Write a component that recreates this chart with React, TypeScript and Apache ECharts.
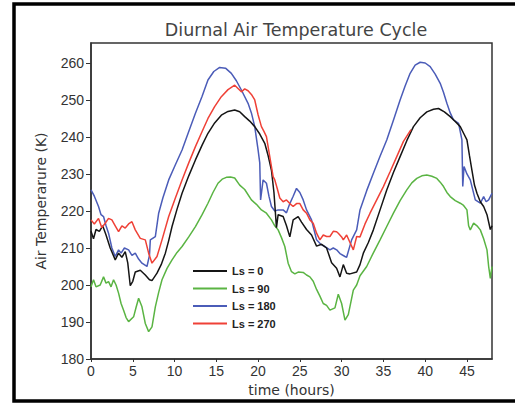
import React, { useEffect, useRef } from "react";
import * as echarts from "echarts";

const seriesNames = ["Ls = 0", "Ls = 90", "Ls = 180", "Ls = 270"];
const xTickValues = [0, 5, 10, 15, 20, 25, 30, 35, 40, 45];
const yTickValues = [180, 190, 200, 210, 220, 230, 240, 250, 260];

const ls0Hours = [0, 0.3, 0.6, 1.0, 1.4, 1.8, 2.3, 2.9, 3.3, 3.7, 4.1, 4.4, 4.7, 5.0, 5.3, 5.9, 6.5, 7.0, 7.3, 7.9, 8.4, 8.9, 9.3, 9.7, 10.3, 10.9, 11.7, 12.5, 13.3, 14.0, 14.8, 15.6, 16.4, 17.2, 17.8, 18.4, 19.0, 19.6, 20.2, 20.8, 21.2, 21.6, 21.9, 22.2, 22.4, 23.0, 23.4, 23.8, 24.2, 24.8, 25.2, 25.8, 26.4, 27.0, 27.6, 28.2, 28.8, 29.4, 29.8, 30.2, 30.6, 31.0, 31.8, 32.2, 32.6, 33.2, 33.8, 34.6, 35.4, 36.2, 37.0, 37.8, 38.6, 39.4, 40.2, 41.0, 41.6, 42.3, 43.0, 43.6, 44.2, 44.6, 45.0, 45.3, 45.6, 45.9, 46.2, 46.6, 47.0, 47.4, 47.8, 48.0];
const ls0Temps = [214.5, 212.5, 215, 214.5, 216, 213.5, 210, 206.8, 208.6, 207.5, 209, 206, 199.8, 201, 203.5, 204, 202.7, 201.4, 201.2, 203.2, 205.5, 208.6, 212, 215.8, 220.5, 224.8, 229.5, 233.8, 237.8, 241, 243.8, 245.9, 246.9, 247.3, 246.8, 245.5, 244.3, 242.8, 240.8, 238.3, 235, 231, 225, 215.5, 219, 218.5, 216, 213, 217.6, 218.5, 217, 215, 213.5, 210.5, 211, 210, 206, 204.5, 202.2, 205.5, 203.2, 203, 203.5, 205.5, 208.6, 211.5, 214.9, 220.3, 225.7, 230.4, 234.7, 239, 242.8, 245.2, 246.8, 247.5, 247.7, 246.8, 245.5, 244.2, 242.8, 241, 239.2, 235, 231, 227, 224.8, 222.5, 221.2, 219, 215, 216];

const ls90Hours = [0, 0.3, 0.6, 1.1, 1.5, 1.8, 2.1, 2.4, 2.7, 3.0, 3.3, 3.6, 3.9, 4.2, 4.5, 5.1, 5.4, 5.7, 6.1, 6.5, 6.9, 7.3, 7.7, 8.1, 8.5, 9.1, 9.7, 10.3, 10.9, 11.7, 12.5, 13.3, 14.0, 14.6, 15.2, 15.7, 16.2, 16.7, 17.2, 17.8, 18.4, 19.2, 19.8, 20.4, 21.0, 21.6, 22.0, 22.4, 22.8, 23.2, 23.6, 24.0, 24.4, 24.8, 25.4, 25.8, 26.2, 26.6, 27.0, 27.4, 27.8, 28.2, 28.6, 29.2, 29.6, 30.0, 30.4, 30.8, 31.4, 31.8, 32.2, 33.0, 33.8, 34.6, 35.4, 36.2, 37.0, 37.8, 38.4, 39.0, 39.6, 40.2, 40.8, 41.4, 41.8, 42.2, 42.6, 43.0, 43.6, 44.2, 44.6, 45.0, 45.2, 45.4, 45.8, 46.2, 46.6, 47.0, 47.4, 47.6, 47.8, 48.0];
const ls90Temps = [199.5, 201.4, 199.5, 200, 202.2, 200.5, 200.9, 199.5, 201.4, 200, 197.8, 195, 193.2, 191.2, 190.1, 191.4, 194, 196.4, 194.1, 189.6, 187.4, 188.7, 194.1, 198, 201.4, 204.5, 206.8, 208.8, 210.4, 213, 215.8, 219, 222.1, 225, 227.5, 228.6, 229.1, 229.2, 228.9, 227, 225.8, 223, 221.8, 220.3, 219.4, 217.6, 216, 214.9, 212.8, 210.4, 205.9, 203.6, 203, 203.5, 203.4, 202.7, 202.2, 201, 198.8, 197, 195, 194.5, 193.2, 193.8, 197.5, 195, 190.5, 192, 198.6, 200, 202.5, 205, 208.7, 212.2, 215.8, 219.4, 222.8, 225.7, 227.6, 228.8, 229.5, 229.7, 229.4, 228.8, 227.8, 226.6, 225, 223.9, 222.8, 222.1, 221.5, 220.3, 216, 214.9, 216.7, 216, 214.9, 212.5, 209.5, 205, 201.8, 205];

const ls180Hours = [0, 0.4, 0.9, 1.2, 1.5, 1.8, 2.1, 2.5, 2.9, 3.3, 3.6, 4.0, 4.5, 4.9, 5.3, 5.7, 6.1, 6.7, 7.0, 7.1, 7.7, 8.1, 8.6, 9.3, 10.1, 10.9, 11.7, 12.5, 13.3, 14.0, 14.7, 15.4, 16.1, 16.8, 17.4, 18.0, 18.8, 19.2, 19.6, 20.0, 20.2, 20.3, 20.6, 21.0, 21.3, 21.6, 22.0, 22.4, 23.0, 23.4, 23.8, 24.2, 24.6, 25.0, 25.4, 25.8, 26.4, 27.0, 27.5, 28.0, 28.6, 29.0, 29.4, 29.8, 30.4, 30.6, 31.2, 31.8, 32.2, 33.0, 33.8, 34.6, 35.4, 36.2, 37.0, 37.6, 38.2, 38.8, 39.4, 40.0, 40.6, 41.2, 41.8, 42.2, 42.6, 43.0, 43.4, 44.0, 44.4, 44.5, 44.65, 45.0, 45.4, 46.0, 46.6, 47.0, 47.3, 47.6, 48.0];
const ls180Temps = [225.7, 224, 221.2, 219, 218.5, 216, 214, 210, 207.7, 209.5, 208.6, 210, 209.5, 208, 208.6, 207, 205.9, 205, 208, 212.2, 213.1, 219.4, 223.5, 228.4, 232.5, 236.5, 241.5, 246.4, 251, 255.4, 257.7, 258.8, 258.6, 257.2, 255.2, 252.7, 249.1, 246.5, 242.8, 236.5, 233, 223, 228.4, 227.5, 224, 221.2, 220, 220.3, 220.3, 219.5, 222, 224, 226.1, 225, 223, 220.3, 217.6, 212.2, 211, 210.4, 209.5, 210, 209.5, 208.5, 207.7, 207.5, 212.2, 214.9, 220.3, 225.5, 230.2, 234.8, 239.2, 244.5, 250, 253.8, 257.2, 259.4, 260.2, 260, 259, 257, 254.5, 252, 249.1, 246.5, 244.6, 243.7, 239.2, 226.6, 232, 230, 228.4, 223, 222.1, 223.9, 222.5, 223, 224.8];

const ls270Hours = [0, 0.4, 0.9, 1.3, 1.7, 2.1, 2.5, 2.9, 3.3, 3.7, 4.1, 4.5, 4.9, 5.3, 5.9, 6.5, 6.9, 7.3, 7.9, 8.5, 9.3, 10.1, 10.9, 11.7, 12.5, 13.3, 14.0, 14.8, 15.6, 16.4, 17.2, 18.0, 18.4, 18.8, 19.2, 19.6, 20.0, 20.4, 20.7, 21.0, 21.4, 21.8, 22.0, 22.3, 22.6, 23.0, 23.4, 23.8, 24.2, 24.6, 25.0, 25.4, 25.8, 26.2, 26.6, 27.0, 27.4, 27.8, 28.2, 28.6, 29.0, 29.4, 29.6, 30.0, 30.2, 30.6, 31.0, 31.4, 31.8, 32.2, 32.8, 33.4, 34.2, 35.0, 35.8, 36.6, 37.4, 38.3];
const ls270Temps = [217.6, 216.5, 218, 215.5, 216.7, 218, 217.6, 216, 214.4, 216, 215.4, 216.5, 217.1, 214.9, 212.6, 212.2, 208.6, 205.9, 207.7, 212.2, 218.5, 223.5, 228.4, 233, 237.4, 241.5, 245, 248.2, 250.9, 252.8, 254, 252.2, 253, 252.5, 251.5, 250, 246, 242.8, 241.5, 240.1, 234.7, 229.3, 228.4, 226, 223.5, 222.5, 223, 222, 221.2, 222, 222, 220.3, 219.4, 217.6, 216.7, 214, 212.2, 213.5, 213.1, 213.1, 214.5, 214.4, 214, 213, 212.2, 213.5, 211.5, 209.5, 213.1, 213, 216.5, 219.4, 223, 226.6, 230.6, 234.7, 238.8, 242];

const colors = ["#151515", "#5ab443", "#4b5cb8", "#ef4137"];

function pairs(h: number[], v: number[]) {
  return h.map((t, i) => [t, v[i]]);
}

export default function App() {
  const ref = useRef<HTMLDivElement>(null);
  useEffect(() => {
    if (!ref.current) return;
    const chart = echarts.init(ref.current, null, { renderer: "svg" });
    const lineSeries = (name: string, idx: number, h: number[], v: number[]) => ({
      name,
      type: "line",
      data: pairs(h, v),
      showSymbol: false,
      symbol: "none",
      lineStyle: { color: colors[idx], width: 1.5 },
      itemStyle: { color: colors[idx] },
      z: 2,
    });
    chart.setOption({
      animation: false,
      backgroundColor: "#ffffff",
      title: {
        text: "Diurnal Air Temperature Cycle",
        left: 291,
        textAlign: "center",
        top: 16,
        textStyle: { fontFamily: "DejaVu Sans", fontWeight: "normal", fontSize: 17.5, color: "#444" },
      },
      legend: {
        orient: "vertical",
        left: 188,
        top: 260,
        icon: "rect",
        itemWidth: 34,
        itemHeight: 2,
        itemGap: 5.5,
        data: seriesNames,
        textStyle: { fontFamily: "Liberation Sans", fontWeight: "bold", fontSize: 11, lineHeight: 12, color: "#222", padding: [0, 0, 0, 0] },
      },
      grid: {
        left: 91,
        right: 23,
        top: 43,
        bottom: 53,
        show: true,
        borderColor: "#333",
        borderWidth: 1.5,
        backgroundColor: "transparent",
      },
      xAxis: {
        type: "value",
        min: 0,
        max: 48,
        name: "time (hours)",
        nameLocation: "middle",
        nameGap: 13,
        nameTextStyle: { fontFamily: "DejaVu Sans", fontSize: 14, color: "#333" },
        axisLine: { show: true, lineStyle: { color: "#333", width: 1.5 } },
        axisTick: { show: true, length: 3, customValues: xTickValues, lineStyle: { color: "#333" } },
        axisLabel: { customValues: xTickValues, fontFamily: "Liberation Sans", fontSize: 14, color: "#333", margin: 5 },
        splitLine: { show: false },
      },
      yAxis: {
        type: "value",
        min: 180,
        max: 265.4,
        name: "Air Temperarure (K)",
        nameLocation: "middle",
        nameGap: 43,
        nameTextStyle: { fontFamily: "DejaVu Sans", fontSize: 14, color: "#333" },
        axisLine: { show: true, lineStyle: { color: "#333", width: 1.5 } },
        axisTick: { show: true, length: 5, customValues: yTickValues, lineStyle: { color: "#333" } },
        axisLabel: { customValues: yTickValues, fontFamily: "Liberation Sans", fontSize: 14, color: "#333", margin: 7 },
        splitLine: { show: false },
      },
      graphic: [
        {
          type: "rect",
          shape: { x: 14, y: 4, width: 520, height: 397 },
          style: { fill: "none", stroke: "#000", lineWidth: 3.5 },
          silent: true,
        },
      ],
      series: [
        lineSeries(seriesNames[1], 1, ls90Hours, ls90Temps),
        lineSeries(seriesNames[2], 2, ls180Hours, ls180Temps),
        lineSeries(seriesNames[0], 0, ls0Hours, ls0Temps),
        lineSeries(seriesNames[3], 3, ls270Hours, ls270Temps),
      ],
    });
    return () => chart.dispose();
  }, []);
  return <div ref={ref} style={{ position: "absolute", left: 0, top: 0, width: 515, height: 412 }} />;
}
